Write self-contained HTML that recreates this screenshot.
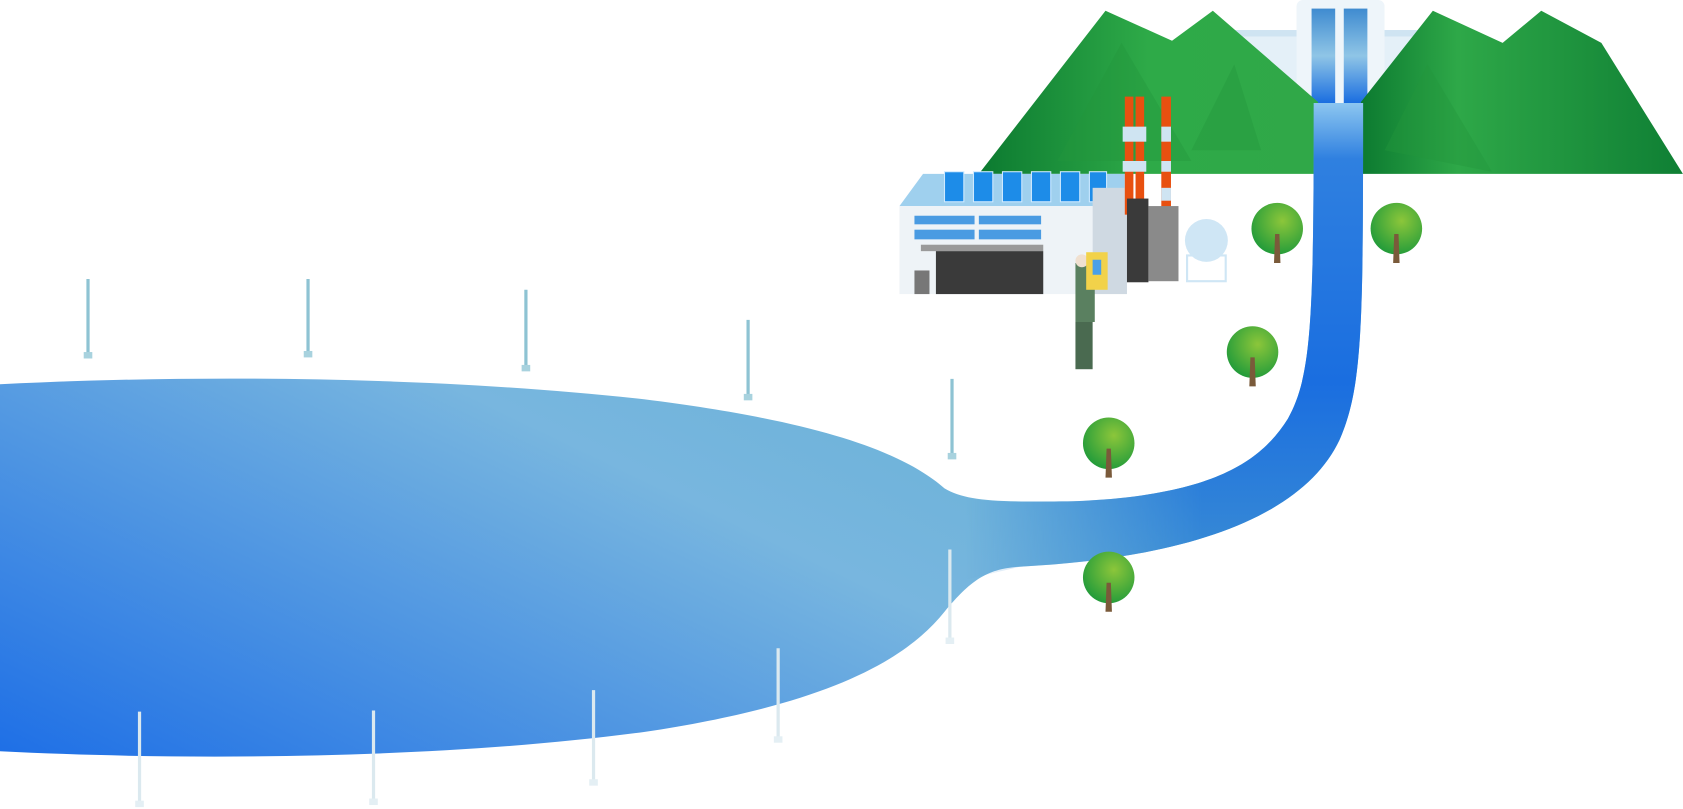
<!DOCTYPE html>
<html><head><meta charset="utf-8"><style>
html,body{margin:0;padding:0;background:#fff;}
svg{display:block}
</style></head><body>
<svg width="1683" height="809" viewBox="0 0 1683 809" xmlns="http://www.w3.org/2000/svg">
<defs>
<linearGradient id="lake" x1="0" y1="1" x2="1" y2="0">
<stop offset="0" stop-color="#1e6fe6"/>
<stop offset="0.45" stop-color="#78b6df"/>
<stop offset="0.75" stop-color="#63b0d3"/>
<stop offset="1" stop-color="#4f9fd2"/>
</linearGradient>
<linearGradient id="river" gradientUnits="userSpaceOnUse" x1="0" y1="96" x2="0" y2="530">
<stop offset="0" stop-color="#8cc6f0"/>
<stop offset="0.12" stop-color="#2f80e0"/>
<stop offset="0.6" stop-color="#1a6ee0"/>
<stop offset="1" stop-color="#3a8cd4"/>
</linearGradient>
<linearGradient id="fade" gradientUnits="userSpaceOnUse" x1="900" y1="0" x2="1120" y2="0">
<stop offset="0" stop-color="#000"/>
<stop offset="1" stop-color="#fff"/>
</linearGradient>
<mask id="rm"><rect x="0" y="0" width="1683" height="809" fill="url(#fade)"/></mask>
<linearGradient id="mtn" x1="0" y1="0" x2="1" y2="0">
<stop offset="0" stop-color="#0c7a30"/>
<stop offset="0.5" stop-color="#2eaa48"/>
<stop offset="1" stop-color="#30a848"/>
</linearGradient>
<linearGradient id="mtn2" x1="0" y1="0" x2="1" y2="0">
<stop offset="0" stop-color="#0c7a30"/>
<stop offset="0.3" stop-color="#2ea848"/>
<stop offset="1" stop-color="#0f7f34"/>
</linearGradient>
<linearGradient id="dam" x1="0" y1="0" x2="0" y2="1">
<stop offset="0" stop-color="#3f8bd0"/>
<stop offset="0.5" stop-color="#8fc5e6"/>
<stop offset="1" stop-color="#1a6ee0"/>
</linearGradient>
<radialGradient id="tree" cx="0.6" cy="0.35" r="0.7">
<stop offset="0" stop-color="#8cc63a"/>
<stop offset="1" stop-color="#1f9a3a"/>
</radialGradient>
</defs>
<g transform="scale(1.0733)">
<!-- dam -->
<rect x="1150" y="28" width="180" height="70" fill="#e4f0f8"/>
<rect x="1150" y="28" width="180" height="6" fill="#cfe4f2"/>
<rect x="1208" y="0" width="82" height="98" rx="6" fill="#eef5fa"/>
<rect x="1222" y="8" width="22" height="88" fill="url(#dam)"/>
<rect x="1252" y="8" width="22" height="88" fill="url(#dam)"/>

<!-- mountains -->
<polygon points="912,162 1030,10 1092,38 1130,10 1228,95 1228,162" fill="url(#mtn)"/>
<polygon points="1268,95 1335,10 1400,40 1436,10 1492,40 1568,162 1268,162" fill="url(#mtn2)"/>
<polygon points="985,150 1045,40 1110,150" fill="#22963c" opacity="0.4"/>
<polygon points="1110,140 1150,60 1175,140" fill="#22963c" opacity="0.4"/>
<polygon points="1290,140 1330,60 1390,160" fill="#22963c" opacity="0.4"/>

<!-- lake + river -->
<path d="M0,358 C200,348 420,352 600,372 C760,392 840,420 880,455 C900,467 930,468 1000,467 C1130,462 1175,430 1200,390 C1222,350 1224,300 1224,96 L1270,96 C1270,300 1270,360 1248,410 C1215,480 1110,520 950,528 C920,530 905,540 880,570 C840,620 760,658 600,682 C430,705 200,710 0,700 Z" fill="url(#lake)"/>
<path mask="url(#rm)" d="M1224,96 L1270,96 C1270,300 1270,360 1248,410 C1215,480 1110,520 950,528 L900,540 L880,460 C900,467 930,468 1000,467 C1130,462 1175,430 1200,390 C1222,350 1224,300 1224,96 Z" fill="url(#river)"/>

<!-- factory -->
<polygon points="838,192 860,162 1048,162 1048,192" fill="#9fd0ee"/>
<g fill="#1d8ce8" stroke="#cfeaff" stroke-width="1">
<rect x="880" y="160" width="18" height="28"/><rect x="907" y="160" width="18" height="28"/><rect x="934" y="160" width="18" height="28"/><rect x="961" y="160" width="18" height="28"/><rect x="988" y="160" width="18" height="28"/><rect x="1015" y="160" width="16" height="28"/>
</g>
<rect x="838" y="192" width="180" height="82" fill="#eef3f7"/>
<rect x="1018" y="175" width="32" height="99" fill="#cfd9e2"/>
<rect x="852" y="201" width="56" height="8" fill="#4a9be2"/><rect x="852" y="214" width="56" height="9" fill="#4a9be2"/>
<rect x="912" y="201" width="58" height="8" fill="#4a9be2"/><rect x="912" y="214" width="58" height="9" fill="#4a9be2"/>
<rect x="858" y="228" width="114" height="6" fill="#9a9a9a"/>
<rect x="872" y="234" width="100" height="40" fill="#3a3a3a"/>
<rect x="852" y="252" width="14" height="22" fill="#777"/>
<!-- chimneys -->
<g>
<rect x="1048" y="90" width="8" height="110" fill="#e85010"/>
<rect x="1058" y="90" width="8" height="110" fill="#e85010"/>
<rect x="1082" y="90" width="9" height="110" fill="#e85010"/>
<rect x="1046" y="118" width="22" height="14" fill="#cfe4f2"/>
<rect x="1046" y="150" width="22" height="10" fill="#cfe4f2"/>
<rect x="1082" y="118" width="9" height="14" fill="#cfe4f2"/>
<rect x="1082" y="150" width="9" height="10" fill="#cfe4f2"/>
<rect x="1082" y="175" width="9" height="12" fill="#cfe4f2"/>
</g>
<rect x="1050" y="185" width="20" height="78" fill="#3a3a3a"/>
<rect x="1070" y="192" width="28" height="70" fill="#8a8a8a"/>
<circle cx="1124" cy="224" r="20" fill="#cfe6f5"/>
<rect x="1106" y="238" width="36" height="24" fill="none" stroke="#cfe6f5" stroke-width="2"/>
<!-- person -->
<rect x="1002" y="245" width="18" height="55" fill="#5a8060"/>
<rect x="1002" y="300" width="16" height="44" fill="#4a6a50"/>
<circle cx="1008" cy="243" r="6" fill="#f0e0d0"/>
<rect x="1012" y="235" width="20" height="35" fill="#f2d24a"/>
<rect x="1018" y="242" width="8" height="14" fill="#4aa0e8"/>

<!-- trees -->
<g>
<g transform="translate(1190,213)"><circle r="24" fill="url(#tree)"/><path d="M-2,5 L-3,32 L3,32 L2,5 Z" fill="#7a5a3a"/></g>
<g transform="translate(1301,213)"><circle r="24" fill="url(#tree)"/><path d="M-2,5 L-3,32 L3,32 L2,5 Z" fill="#7a5a3a"/></g>
<g transform="translate(1167,328)"><circle r="24" fill="url(#tree)"/><path d="M-2,5 L-3,32 L3,32 L2,5 Z" fill="#7a5a3a"/></g>
<g transform="translate(1033,413)"><circle r="24" fill="url(#tree)"/><path d="M-2,5 L-3,32 L3,32 L2,5 Z" fill="#7a5a3a"/></g>
<g transform="translate(1033,538)"><circle r="24" fill="url(#tree)"/><path d="M-2,5 L-3,32 L3,32 L2,5 Z" fill="#7a5a3a"/></g>
</g>

<!-- wind turbines -->
<g stroke="#8ec3d3" stroke-width="3" fill="#a8d2de">
<line x1="82" y1="260" x2="82" y2="332"/><rect x="78" y="328" width="8" height="6" stroke="none"/>
<line x1="287" y1="260" x2="287" y2="331"/><rect x="283" y="327" width="8" height="6" stroke="none"/>
<line x1="490" y1="270" x2="490" y2="344"/><rect x="486" y="340" width="8" height="6" stroke="none"/>
<line x1="697" y1="298" x2="697" y2="371"/><rect x="693" y="367" width="8" height="6" stroke="none"/>
<line x1="887" y1="353" x2="887" y2="426"/><rect x="883" y="422" width="8" height="6" stroke="none"/>
</g>
<g stroke="#dbe9ef" stroke-width="3" fill="#e4eff4">
<line x1="885" y1="512" x2="885" y2="597"/><rect x="881" y="594" width="8" height="6" stroke="none"/>
<line x1="725" y1="604" x2="725" y2="689"/><rect x="721" y="686" width="8" height="6" stroke="none"/>
<line x1="553" y1="643" x2="553" y2="729"/><rect x="549" y="726" width="8" height="6" stroke="none"/>
<line x1="348" y1="662" x2="348" y2="747"/><rect x="344" y="744" width="8" height="6" stroke="none"/>
<line x1="130" y1="663" x2="130" y2="749"/><rect x="126" y="746" width="8" height="6" stroke="none"/>
</g>
</g>
</svg>
</body></html>
